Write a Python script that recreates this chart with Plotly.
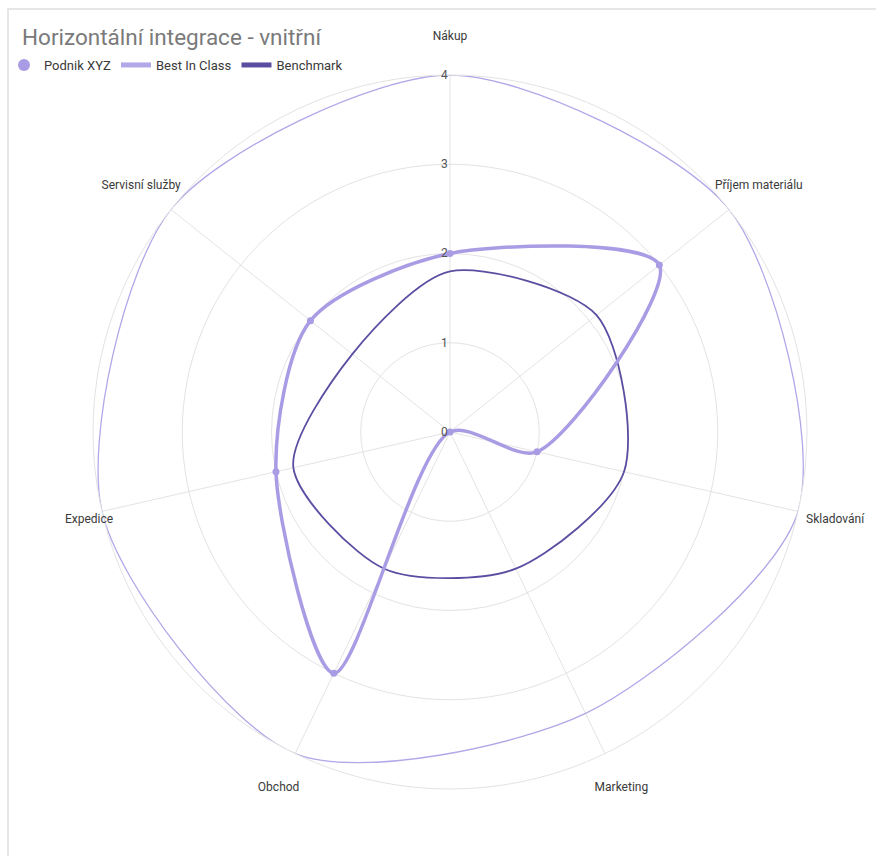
import plotly.graph_objects as go

categories = ["Nákup", "Příjem materiálu", "Skladování", "Marketing", "Obchod", "Expedice", "Servisní služby"]
podnik_xyz = [2, 3, 1, 0, 3, 2, 2]
best_in_class = [4, 4, 4, 3.5, 4, 4, 4]
benchmark = [1.8, 2.1, 2.0, 1.7, 1.7, 1.8, 1.4]
radial_ticks = [0, 1, 2, 3, 4]

FONT = "Roboto"
C_PODNIK = "#aa9ce4"
C_BEST = "#b2a7e8"
C_BENCH = "#5d4da2"
GRID = "#e3e3e3"
SMOOTH = 0.8

W, H = 876, 856
cx, cy, R = 450, 432, 357      # plot centre and outer radius (px)
RL = 420                        # radius of the invisible label ring subplot (px)
LABEL_R = 4 * 395 / R           # label distance in data units


def closed(vals):
    return list(vals) + [vals[0]]


theta_closed = closed(categories)

fig = go.Figure()

fig.add_trace(go.Scatterpolar(
    r=closed(best_in_class), theta=theta_closed, mode="lines",
    line=dict(color=C_BEST, width=1.3, shape="spline", smoothing=SMOOTH),
    name="Best In Class", showlegend=False, hoverinfo="skip", cliponaxis=False))

fig.add_trace(go.Scatterpolar(
    r=closed(benchmark), theta=theta_closed, mode="lines",
    line=dict(color=C_BENCH, width=1.8, shape="spline", smoothing=SMOOTH),
    name="Benchmark", showlegend=False, hoverinfo="skip", cliponaxis=False))

fig.add_trace(go.Scatterpolar(
    r=closed(podnik_xyz), theta=theta_closed, mode="lines",
    line=dict(color=C_PODNIK, width=3.5, shape="spline", smoothing=SMOOTH),
    name="Podnik XYZ", showlegend=False, hoverinfo="skip", cliponaxis=False))

fig.add_trace(go.Scatterpolar(
    r=podnik_xyz, theta=categories, mode="markers",
    marker=dict(color=C_PODNIK, size=7),
    name="Podnik XYZ", showlegend=True, cliponaxis=False))

# legend proxies for the line series (no visible marks)
fig.add_trace(go.Scatterpolar(r=[None], theta=[None], mode="lines",
                              line=dict(color=C_BEST, width=3), name="Best In Class"))
fig.add_trace(go.Scatterpolar(r=[None], theta=[None], mode="lines",
                              line=dict(color=C_BENCH, width=3), name="Benchmark"))

# category labels on an invisible, larger polar subplot sharing the same centre
label_pos = ["middle center"] * len(categories)
label_pos[categories.index("Expedice")] = "middle right"
fig.add_trace(go.Scatterpolar(
    r=[LABEL_R] * len(categories), theta=categories, mode="text",
    text=categories, textposition=label_pos,
    textfont=dict(family=FONT, size=12, color="#3a3a3a"),
    subplot="polar2", showlegend=False, hoverinfo="skip"))

fig.update_layout(
    width=W, height=H,
    margin=dict(l=0, r=0, t=0, b=0),
    paper_bgcolor="white", plot_bgcolor="white",
    font=dict(family=FONT, size=12, color="#3a3a3a"),
    title=dict(text="Horizontální integrace - vnitřní", x=22 / W, xanchor="left",
               y=1 - 37 / H, yanchor="middle",
               font=dict(family=FONT, size=22.5, color="#7a7a7a")),
    legend=dict(orientation="h", x=4 / W, xanchor="left", y=1 - 50 / H, yanchor="top",
                font=dict(family=FONT, size=13, color="#3a3a3a"),
                itemsizing="constant", bgcolor="rgba(0,0,0,0)"),
    polar=dict(
        domain=dict(x=[(cx - R) / W, (cx + R) / W], y=[(H - cy - R) / H, (H - cy + R) / H]),
        bgcolor="white",
        radialaxis=dict(range=[0, 4], tickvals=radial_ticks, angle=90, tickangle=90,
                        side="counterclockwise",
                        showline=False, gridcolor=GRID, gridwidth=1, ticks="",
                        tickfont=dict(family=FONT, size=12, color="#555")),
        angularaxis=dict(type="category", categoryarray=categories, rotation=90,
                         direction="clockwise", showticklabels=False, ticks="",
                         gridcolor=GRID, gridwidth=1, linecolor=GRID, linewidth=1),
    ),
    polar2=dict(
        domain=dict(x=[(cx - RL) / W, (cx + RL) / W], y=[(H - cy - RL) / H, (H - cy + RL) / H]),
        bgcolor="rgba(0,0,0,0)",
        radialaxis=dict(range=[0, 4 * RL / R], visible=False, showgrid=False),
        angularaxis=dict(type="category", categoryarray=categories, rotation=90,
                         direction="clockwise", visible=False, showgrid=False,
                         showline=False, showticklabels=False, ticks=""),
    ),
    shapes=[dict(type="rect", xref="paper", yref="paper",
                 x0=8 / W, x1=1.02, y0=-0.02, y1=1 - 9 / H,
                 line=dict(color="#dedede", width=1.5), layer="below")],
)

fig.write_html("out.html")
